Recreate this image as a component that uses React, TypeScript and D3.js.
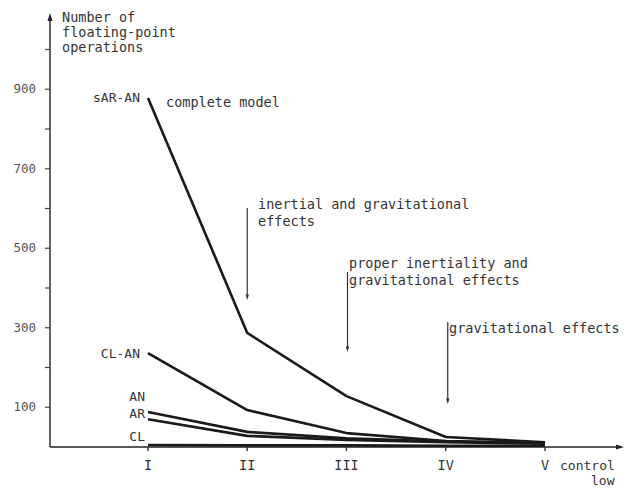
import React from 'react';
import * as d3 from 'd3';

const stages = ['I', 'II', 'III', 'IV', 'V'];
const yLabelTicks = [100, 300, 500, 700, 900];
const yMinorTicks = [200, 400, 600, 800, 1000];

const sarAn = [878, 287, 128, 25, 12];
const clAn = [236, 93, 35, 15, 10];
const an = [88, 38, 22, 14, 10];
const ar = [70, 28, 18, 12, 8];
const cl = [5, 4, 4, 3, 3];

const seriesList = [
  { name: 'sAR-AN', values: sarAn },
  { name: 'CL-AN', values: clAn },
  { name: 'AN', values: an },
  { name: 'AR', values: ar },
  { name: 'CL', values: cl },
];

const FONT = '"DejaVu Sans Mono", "Liberation Mono", monospace';

const App = () => {
  const W = 636;
  const H = 488;
  const x = d3.scalePoint<string>().domain(stages).range([148, 545]);
  const y = d3.scaleLinear().domain([0, 1000]).range([447, 49.5]);
  const axisX = 50;
  const baseY = y(0);

  const line = d3
    .line<number>()
    .x((_, i) => x(stages[i]) as number)
    .y(d => y(d));

  // series label positions, offset from first point
  const labelPos: Record<string, [number, number]> = {
    'sAR-AN': [140, y(sarAn[0]) + 4],
    'CL-AN': [140, y(clAn[0]) + 5],
    AN: [145, y(an[0]) - 11],
    AR: [145, y(ar[0]) - 1],
    CL: [145, y(cl[0]) - 4],
  };

  const arrows = [
    { x: x('II') as number, y1: 208, y2: 300, lines: ['inertial and gravitational', 'effects'], tx: 258, ty: 209 },
    { x: (x('III') as number) + 1, y1: 272, y2: 352, lines: ['proper inertiality and', 'gravitational effects'], tx: 349, ty: 268 },
    { x: (x('IV') as number) + 2, y1: 322, y2: 404, lines: ['gravitational effects'], tx: 449, ty: 333 },
  ];

  const head = (cx: number, cy: number, dir: 'down' | 'up' | 'right', s = 4) => {
    if (dir === 'down') return `M${cx - s / 2},${cy - s * 1.6}L${cx + s / 2},${cy - s * 1.6}L${cx},${cy}Z`;
    if (dir === 'up') return `M${cx - s / 2},${cy + s * 1.6}L${cx + s / 2},${cy + s * 1.6}L${cx},${cy}Z`;
    return `M${cx - s * 1.6},${cy - s / 2}L${cx - s * 1.6},${cy + s / 2}L${cx},${cy}Z`;
  };

  return (
    <svg
      width={W}
      height={H}
      style={{ position: 'absolute', left: 0, top: 0, background: '#fff' }}
      fontFamily={FONT}
    >
      {/* axes */}
      <line x1={axisX} x2={axisX} y1={baseY} y2={16} stroke="#222" strokeWidth={1.4} />
      <path d={head(axisX, 13, 'up', 5)} fill="#222" />
      <line x1={axisX} x2={618} y1={baseY} y2={baseY} stroke="#222" strokeWidth={1.4} />
      <path d={head(624, baseY, 'right', 5)} fill="#222" />

      {yLabelTicks.map(t => (
        <g key={t}>
          <line x1={axisX - 5} x2={axisX} y1={y(t)} y2={y(t)} stroke="#444" strokeWidth={1.2} />
          <text x={axisX - 14} y={y(t) + 4} textAnchor="end" fontSize={12.5} fill="#555">
            {t}
          </text>
        </g>
      ))}
      {yMinorTicks.map(t => (
        <line key={t} x1={axisX - 5} x2={axisX} y1={y(t)} y2={y(t)} stroke="#444" strokeWidth={1.2} />
      ))}

      {stages.map(s => (
        <g key={s}>
          <line x1={x(s)} x2={x(s)} y1={baseY} y2={baseY + 4} stroke="#333" strokeWidth={1.4} />
          <text x={x(s)} y={baseY + 23} textAnchor="middle" fontSize={13.5} fill="#333">
            {s}
          </text>
        </g>
      ))}
      <text x={560} y={baseY + 23} fontSize={13} fill="#333">control</text>
      <text x={591} y={baseY + 38} fontSize={13} fill="#333">low</text>

      {/* y title */}
      <text fontSize={13.5} fill="#333">
        <tspan x={62} y={22}>Number of</tspan>
        <tspan x={62} y={37}>floating-point</tspan>
        <tspan x={62} y={52}>operations</tspan>
      </text>

      {/* series */}
      {seriesList.map(s => (
        <g key={s.name}>
          <path d={line(s.values) ?? ''} fill="none" stroke="#1a1a1a" strokeWidth={2.6} strokeLinejoin="round" />
          <text
            x={labelPos[s.name][0]}
            y={labelPos[s.name][1]}
            textAnchor="end"
            fontSize={13}
            fill="#333"
          >
            {s.name}
          </text>
        </g>
      ))}
      <text x={166} y={107} fontSize={13.5} fill="#333">complete model</text>

      {/* annotation arrows */}
      {arrows.map((a, i) => (
        <g key={i}>
          <line x1={a.x} x2={a.x} y1={a.y1} y2={a.y2 - 4} stroke="#333" strokeWidth={1.2} />
          <path d={head(a.x, a.y2, 'down', 3.5)} fill="#333" />
          <text fontSize={13.5} fill="#333">
            {a.lines.map((l, j) => (
              <tspan key={j} x={a.tx} y={a.ty + j * 17}>
                {l}
              </tspan>
            ))}
          </text>
        </g>
      ))}
    </svg>
  );
};

export default App;
